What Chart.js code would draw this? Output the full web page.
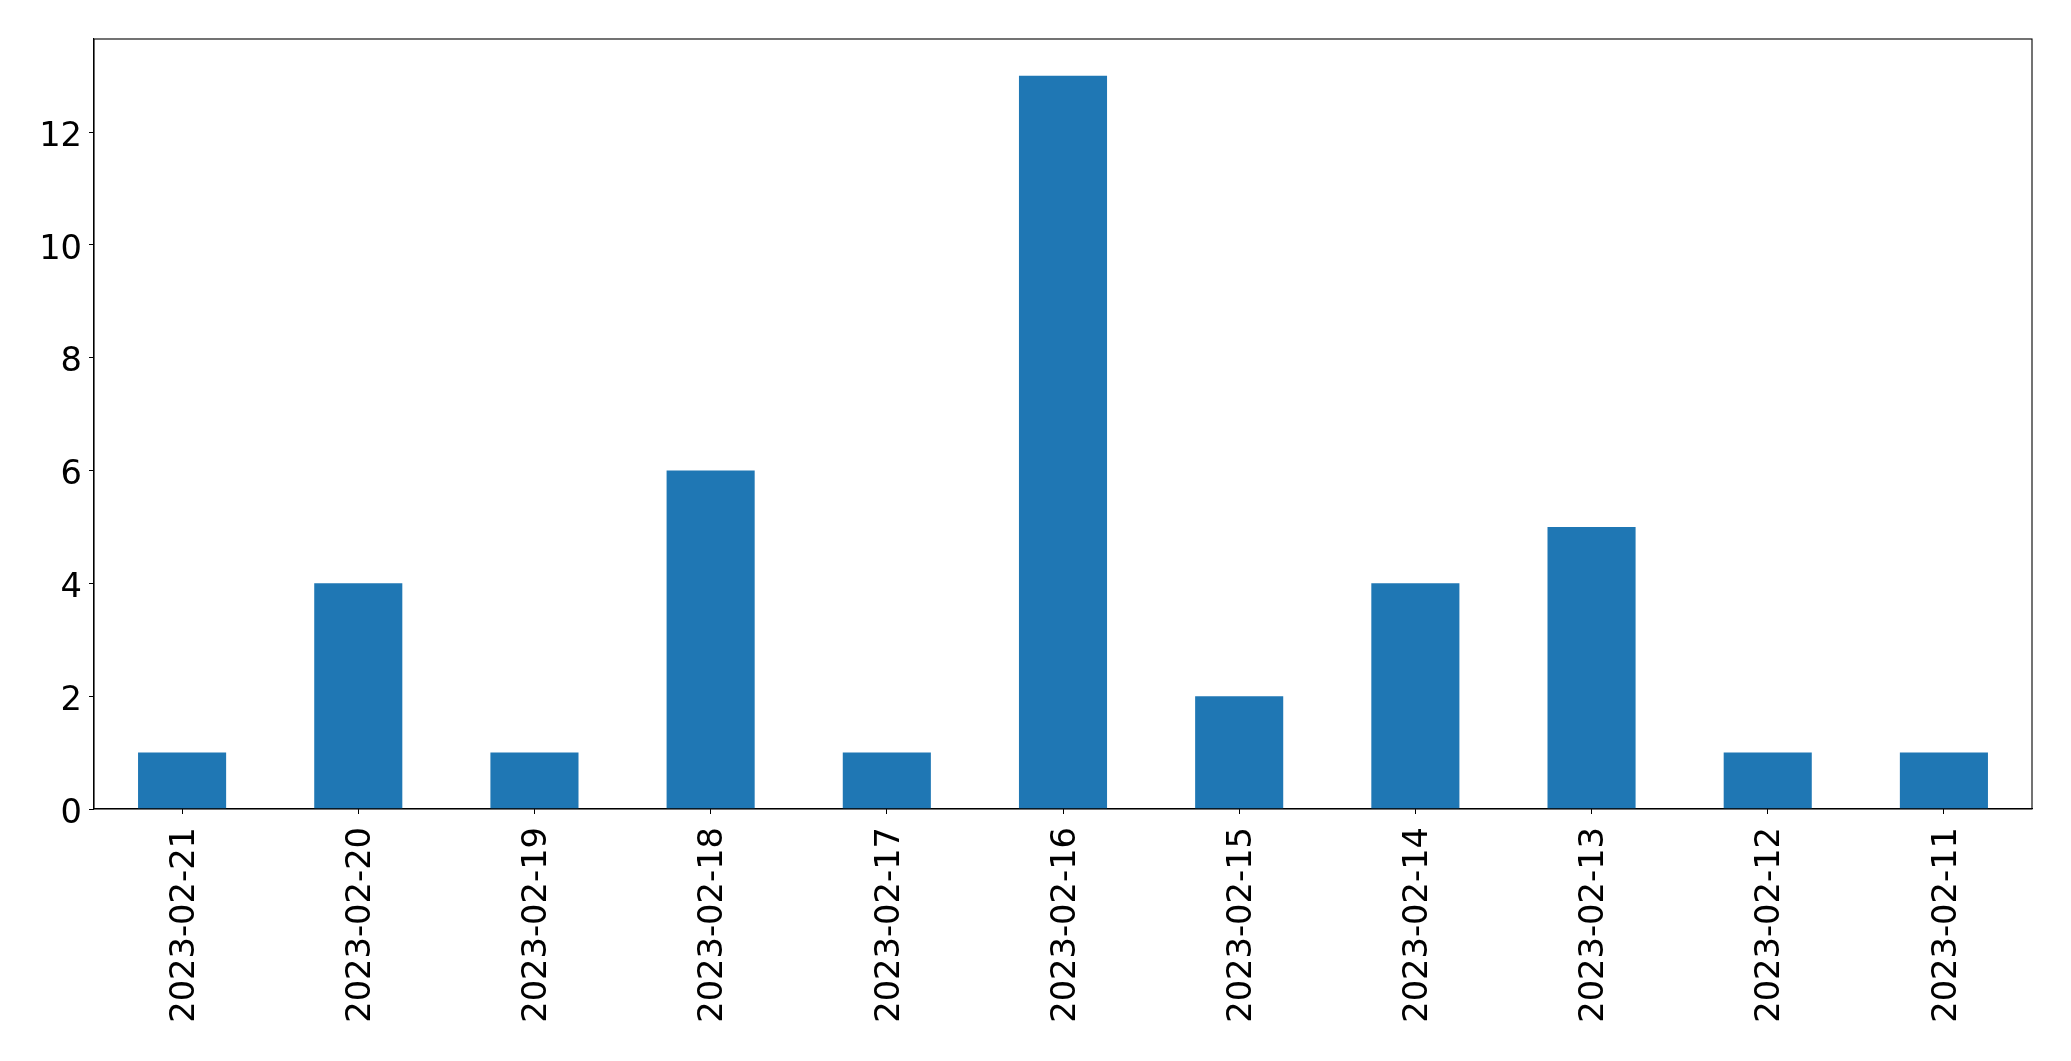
<!DOCTYPE html>
<html>
<head>
<meta charset="utf-8">
<title>Daily counts</title>
<script src="https://cdn.jsdelivr.net/npm/chart.js@4/dist/chart.umd.min.js"></script>
<style>
    html, body { margin: 0; padding: 0; background: #ffffff; }
    canvas { display: block; }
</style>
</head>
<body>
<canvas id="countChart" width="2071" height="1061"></canvas>
<script>
// Data
const dates = ['2023-02-21', '2023-02-20', '2023-02-19', '2023-02-18', '2023-02-17', '2023-02-16',
    '2023-02-15', '2023-02-14', '2023-02-13', '2023-02-12', '2023-02-11'];
const counts = [1, 4, 1, 6, 1, 13, 2, 4, 5, 1, 1];
const yTicks = [0, 2, 4, 6, 8, 10, 12];

const FONT = { family: 'DejaVu Sans', size: 33.7 };

// Draws the full box round the plot area (matplotlib style spines)
const frameBox = {
    id: 'frameBox',
    afterDraw(chart) {
        const { ctx, chartArea: a } = chart;
        ctx.save();
        ctx.strokeStyle = '#000000';
        ctx.lineWidth = 1.1;
        ctx.strokeRect(a.left, a.top, a.right - a.left, a.bottom - a.top);
        ctx.restore();
    }
};

new Chart(document.getElementById('countChart').getContext('2d'), {
    type: 'bar',
    data: {
        labels: dates,
        datasets: [{
            data: counts,
            backgroundColor: '#1f77b4',
            borderWidth: 0,
            categoryPercentage: 1.0,
            barPercentage: 0.5
        }]
    },
    options: {
        responsive: false,
        animation: false,
        layout: { padding: { top: 39, right: 39, left: 0, bottom: 0 } },
        plugins: { legend: { display: false }, tooltip: { enabled: false } },
        scales: {
            x: {
                grid: { display: true, offset: false, drawOnChartArea: false, drawTicks: true, tickLength: 5, color: '#000000' },
                border: { display: true, color: '#000000', width: 1.1 },
                ticks: {
                    color: '#000000',
                    font: FONT,
                    autoSkip: false,
                    maxRotation: 90,
                    minRotation: 90,
                    padding: 13,
                    labelOffset: 3
                },
                afterFit(axis) { axis.height = 252; }
            },
            y: {
                min: 0,
                max: 13.65,
                grid: { display: true, drawOnChartArea: false, drawTicks: true, tickLength: 5, color: '#000000' },
                border: { display: true, color: '#000000', width: 1.1 },
                afterBuildTicks(axis) { axis.ticks = yTicks.map(v => ({ value: v })); },
                ticks: {
                    color: '#000000',
                    font: FONT,
                    padding: 7,
                    labelOffset: 5
                },
                afterFit(axis) { axis.width = 94; }
            }
        }
    },
    plugins: [frameBox]
});
</script>
</body>
</html>
